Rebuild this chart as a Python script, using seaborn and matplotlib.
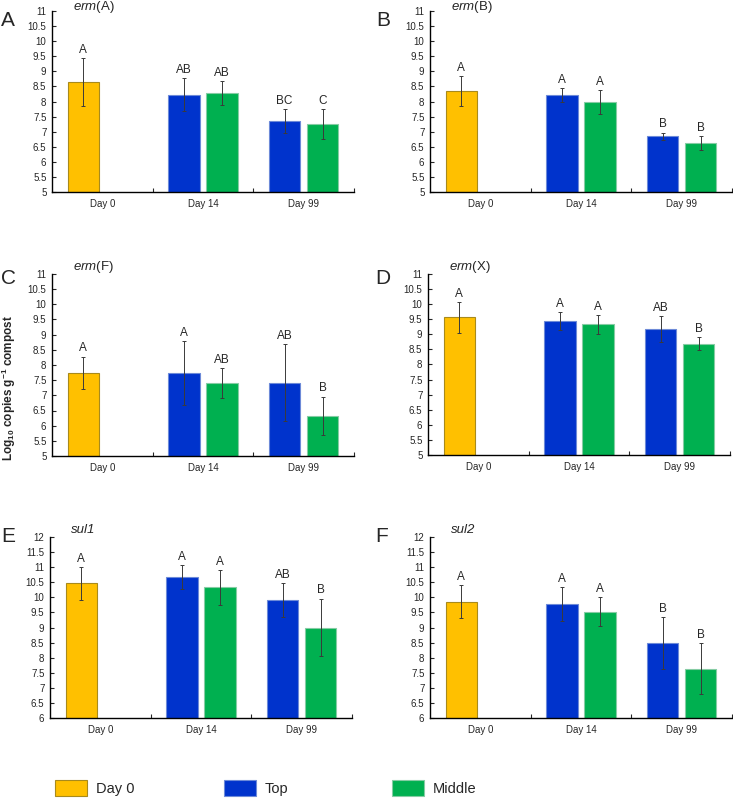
import numpy as np
import pandas as pd
import matplotlib
matplotlib.use('Agg')
import matplotlib.pyplot as plt
import matplotlib.patches as mpatches
import seaborn as sns

# ----------------------- Données ------------------------
genes = ['erm(A)', 'erm(B)', 'erm(F)', 'erm(X)', 'sul1', 'sul2']
titles = [r'$\mathit{erm}$(A)', r'$\mathit{erm}$(B)', r'$\mathit{erm}$(F)',
          r'$\mathit{erm}$(X)', 'sul1', 'sul2']
title_italic = [False, False, False, False, True, True]
panel_labels = ['A', 'B', 'C', 'D', 'E', 'F']
days = ['Day 0', 'Day 14', 'Day 99']
series_names = ['Day 0', 'Top', 'Middle']

day0_mean = [8.64, 8.35, 7.75, 9.56, 10.46, 9.86]
day0_sd = [0.80, 0.49, 0.53, 0.51, 0.55, 0.54]
day0_letter = ['A', 'A', 'A', 'A', 'A', 'A']

# valeurs Day 14 / Day 99
top_mean = [[8.22, 7.35], [8.21, 6.84], [7.74, 7.42], [9.44, 9.17], [10.68, 9.91], [9.77, 8.49]]
top_sd = [[0.55, 0.41], [0.24, 0.13], [1.05, 1.28], [0.29, 0.43], [0.40, 0.55], [0.56, 0.85]]
top_letter = [['AB', 'BC'], ['A', 'B'], ['A', 'AB'], ['A', 'AB'], ['A', 'AB'], ['A', 'B']]

mid_mean = [[8.28, 7.26], [7.99, 6.62], [7.41, 6.33], [9.33, 8.69], [10.33, 9.00], [9.53, 7.64]]
mid_sd = [[0.39, 0.50], [0.40, 0.24], [0.50, 0.63], [0.31, 0.22], [0.58, 0.96], [0.49, 0.84]]
mid_letter = [['AB', 'C'], ['A', 'B'], ['AB', 'B'], ['A', 'B'], ['A', 'B'], ['A', 'B']]

y_limits = [(5, 11), (5, 11), (5, 11), (5, 11), (6, 12), (6, 12)]

colors = {'Day 0': '#FFC000', 'Top': '#0033CC', 'Middle': '#00B050'}
edges = {'Day 0': '#A88A1C', 'Top': '#6D8AD8', 'Middle': '#86CCA4'}

# tableau long
rows = []
for g, gene in enumerate(genes):
    rows.append([gene, 'Day 0', 'Day 0', 'left', day0_mean[g], day0_sd[g], day0_letter[g]])
    for d, day in enumerate(days[1:]):
        rows.append([gene, day, 'Top', 'left', top_mean[g][d], top_sd[g][d], top_letter[g][d]])
        rows.append([gene, day, 'Middle', 'right', mid_mean[g][d], mid_sd[g][d], mid_letter[g][d]])
data = pd.DataFrame(rows, columns=['gene', 'day', 'series', 'slot', 'mean', 'sd', 'letter'])

# ----------------------- Figure ------------------------
sns.set_style('ticks')
plt.rcParams['font.family'] = ['Liberation Sans', 'DejaVu Sans']
plt.rcParams['mathtext.fontset'] = 'custom'
plt.rcParams['mathtext.rm'] = 'Liberation Sans'
plt.rcParams['mathtext.it'] = 'Liberation Sans:italic'
plt.rcParams['mathtext.bf'] = 'Liberation Sans:bold'

W, H = 733, 798
fig = plt.figure(figsize=(W / 100, H / 100), dpi=100)

# positions des axes (pixels) : gauche, haut, bas
boxes = [(52, 11, 192), (430, 11, 192), (52, 274, 456),
         (428, 274, 455), (50, 537, 718), (430, 537, 718)]
axis_w = 302
title_y = [1.02, 1.02, 1.038, 1.038, 1.039, 1.039]
letter_pos = [(8, 21), (383, 21), (8, 278), (383, 278), (8, 537), (382, 537)]

for i, gene in enumerate(genes):
    l, t, b = boxes[i]
    ax = fig.add_axes([l / W, 1 - b / H, axis_w / W, (b - t) / H])
    sub = data[data['gene'] == gene]
    sns.barplot(data=sub, x='day', y='mean', hue='slot', order=days,
                hue_order=['left', 'right'], width=0.76, gap=0.18,
                errorbar=None, legend=False, ax=ax)

    # couleurs + positions des barres
    centers = {}
    for p in ax.patches:
        xc = p.get_x() + p.get_width() / 2
        cat = int(round(xc))
        slot = 'left' if xc < cat else 'right'
        ser = sub[(sub['day'] == days[cat]) & (sub['slot'] == slot)]['series'].iloc[0]
        p.set_facecolor(colors[ser])
        p.set_edgecolor(edges[ser])
        p.set_linewidth(0.8)
        centers[(days[cat], slot)] = xc

    for _, r in sub.iterrows():
        xc = centers[(r['day'], r['slot'])]
        ax.errorbar(xc, r['mean'], yerr=r['sd'], fmt='none', ecolor='#3a3a3a',
                    elinewidth=0.7, capsize=1.5, capthick=0.7, zorder=3)
        ax.annotate(r['letter'], (xc, r['mean'] + r['sd']), xytext=(0, 1.5),
                    textcoords='offset points', ha='center', va='bottom', fontsize=8.5)

    ax.set_xlim(-0.5, 2.5)
    ax.set_ylim(*y_limits[i])
    ax.set_yticks(np.arange(y_limits[i][0], y_limits[i][1] + 0.01, 0.5))
    ax.set_yticklabels([f'{v:g}' for v in ax.get_yticks()])
    ax.set_xticks([0.5, 1.5, 2.5], minor=True)
    ax.tick_params(axis='x', which='major', length=0, labelsize=7, pad=5)
    ax.tick_params(axis='x', which='minor', direction='in', length=3, width=0.8)
    ax.tick_params(axis='y', direction='in', length=3, width=0.8, labelsize=7, pad=4)
    ax.set_xlabel('')
    ax.set_ylabel('')
    for s in ['left', 'bottom']:
        ax.spines[s].set_linewidth(1.0)
        ax.spines[s].set_color('black')
    sns.despine(ax=ax)
    ax.text(0.07, title_y[i], titles[i], transform=ax.transAxes, ha='left', va='center',
            fontsize=9.5, fontstyle='italic' if title_italic[i] else 'normal')

    lx, ly = letter_pos[i]
    fig.text(lx / W, 1 - ly / H, panel_labels[i], ha='center', va='center', fontsize=15)

fig.text(9 / W, 1 - 388 / H, r'$\mathbf{Log_{10}\ copies\ g^{-1}\ compost}$',
         rotation=90, ha='center', va='center', fontsize=8.5)

# légende
leg_x = [55, 224, 392]
for k, name in enumerate(series_names):
    h = mpatches.Patch(facecolor=colors[name], edgecolor=edges[name], linewidth=0.8)
    fig.legend([h], [name], loc='center left', bbox_to_anchor=(leg_x[k] / W, 1 - 788 / H),
               frameon=False, handlelength=2.2, handleheight=1.25,
               handletextpad=0.6, borderpad=0, borderaxespad=0,
               prop={'family': ['Liberation Sans Narrow', 'Liberation Sans'], 'size': 10.5})

fig.savefig('out.png', dpi=100)
